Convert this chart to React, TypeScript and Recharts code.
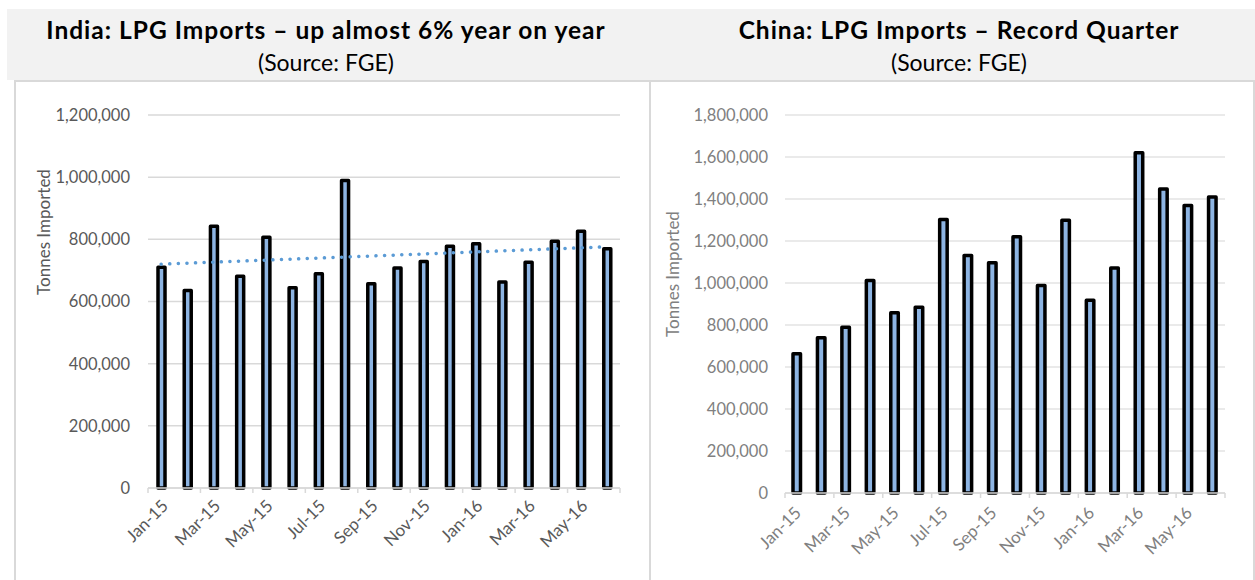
import React from 'react';
import { BarChart, Bar, XAxis, YAxis, CartesianGrid, ReferenceLine, Label } from 'recharts';

const months = ['Jan-15','Feb-15','Mar-15','Apr-15','May-15','Jun-15','Jul-15','Aug-15','Sep-15','Oct-15','Nov-15','Dec-15','Jan-16','Feb-16','Mar-16','Apr-16','May-16','Jun-16'];
const indiaImports = [710000,635000,842000,681000,807000,644000,689000,989000,657000,708000,729000,778000,786000,663000,726000,794000,826000,770000];
const chinaImports = [663000,739000,789000,1012000,858000,884000,1302000,1131000,1096000,1220000,988000,1299000,918000,1072000,1620000,1448000,1369000,1410000];
const indiaTicks = [0,200000,400000,600000,800000,1000000,1200000];
const chinaTicks = [0,200000,400000,600000,800000,1000000,1200000,1400000,1600000,1800000];
const indiaTrend = [720000, 776000];

const indiaData = months.map((m, i) => ({ month: m, value: indiaImports[i] }));
const chinaData = months.map((m, i) => ({ month: m, value: chinaImports[i] }));

const FONT = 'Lato, "Noto Sans", sans-serif';
const fmt = (v: number) => v.toLocaleString('en-US');

function makeTick(color: string, dxLabel: number, dyLabel: number, fallbackHalf: number, last: number) {
  return (props: any) => {
    const { x, y, payload, index } = props;
    const half = payload && typeof payload.offset === 'number' && payload.offset > 0 ? payload.offset : fallbackHalf;
    const even = index % 2 === 0;
    return (
      <g>
        {even && <line x1={x - half} x2={x - half} y1={y} y2={y + 5} stroke="#d9d9d9" strokeWidth={1.5} />}
        {index === last && <line x1={x + half} x2={x + half} y1={y} y2={y + 5} stroke="#d9d9d9" strokeWidth={1.5} />}
        {even && (
          <text
            x={x + dxLabel}
            y={y + dyLabel}
            transform={`rotate(-45, ${x + dxLabel}, ${y + dyLabel})`}
            textAnchor="end"
            fill={color}
            fontFamily={FONT}
            fontSize={17}
          >
            {payload.value}
          </text>
        )}
      </g>
    );
  };
}

function yLabel(text: string, dx: number, shift: number, color: string) {
  return (props: any) => {
    const vb = props.viewBox || { x: 0, y: 0, width: 0, height: 0 };
    const cx = vb.x + dx;
    const cy = vb.y + vb.height / 2 + shift;
    return (
      <text
        x={cx}
        y={cy}
        transform={`rotate(-90, ${cx}, ${cy})`}
        textAnchor="middle"
        dominantBaseline="central"
        fill={color}
        fontFamily={FONT}
        fontSize={17}
      >
        {text}
      </text>
    );
  };
}

const titleStyle: React.CSSProperties = { fontWeight: 700, fontSize: 24.5, letterSpacing: 1.0 };

export default function App() {
  return (
    <div style={{ position: 'absolute', left: 0, top: 0, width: 1255, height: 580, background: '#ffffff', overflow: 'hidden', fontFamily: FONT }}>
      <div style={{ position: 'absolute', left: 7, top: 9, width: 1248, height: 71, background: '#f2f2f2' }} />
      <div style={{ position: 'absolute', left: 15, top: 14, width: 622, textAlign: 'center', color: '#000', lineHeight: '32px' }}>
        <div style={titleStyle}>India: LPG Imports – up almost 6% year on year</div>
        <div style={{ fontSize: 23 }}>(Source: FGE)</div>
      </div>
      <div style={{ position: 'absolute', left: 655, top: 14, width: 608, textAlign: 'center', color: '#000', lineHeight: '32px' }}>
        <div style={titleStyle}>China: LPG Imports – Record Quarter</div>
        <div style={{ fontSize: 23 }}>(Source: FGE)</div>
      </div>
      <div style={{ position: 'absolute', left: 14, top: 80, width: 637, height: 520, border: '2px solid #d9d9d9', boxSizing: 'border-box', background: '#fff' }} />
      <div style={{ position: 'absolute', left: 649, top: 80, width: 606, height: 520, border: '2px solid #d9d9d9', boxSizing: 'border-box', background: '#fff' }} />

      <div style={{ position: 'absolute', left: 15, top: 80 }}>
        <BarChart width={634} height={500} data={indiaData} margin={{ top: 35, right: 29, bottom: 12, left: 0 }}>
          <CartesianGrid vertical={false} stroke="#d9d9d9" strokeWidth={1.5} />
          <XAxis
            dataKey="month"
            interval={0}
            height={80}
            tickLine={false}
            tickSize={0}
            tickMargin={0}
            axisLine={{ stroke: '#d9d9d9', strokeWidth: 1.5 }}
            tick={makeTick('#595959', 8, 19, 13.1, months.length - 1)}
          />
          <YAxis
            width={133}
            domain={[0, 1200000]}
            ticks={indiaTicks}
            tickFormatter={fmt}
            axisLine={false}
            tickLine={false}
            tickSize={0}
            tickMargin={18}
            tick={{ fill: '#595959', fontFamily: FONT, fontSize: 16.5 }}
          >
            <Label content={yLabel('Tonnes Imported', 28, -69.5, '#595959')} />
          </YAxis>
          <Bar dataKey="value" fill="#8db4e2" stroke="#000" strokeWidth={3.5} barSize={7} strokeLinejoin="round" isAnimationActive={false} />
          <ReferenceLine
            segment={[{ x: months[0], y: indiaTrend[0] }, { x: months[months.length - 1], y: indiaTrend[1] }]}
            stroke="#5b9bd5"
            strokeWidth={3.5}
            strokeDasharray="0.1 8.5"
            strokeLinecap="round"
          />
        </BarChart>
      </div>

      <div style={{ position: 'absolute', left: 650, top: 80 }}>
        <BarChart width={603} height={500} data={chinaData} margin={{ top: 35, right: 28, bottom: 12, left: 0 }}>
          <CartesianGrid vertical={false} stroke="#e3e3e3" strokeWidth={1.5} />
          <XAxis
            dataKey="month"
            interval={0}
            height={75}
            tickLine={false}
            tickSize={0}
            tickMargin={0}
            axisLine={{ stroke: '#d9d9d9', strokeWidth: 1.5 }}
            tick={makeTick('#808080', 5, 21, 12.2, months.length - 1)}
          />
          <YAxis
            width={135}
            domain={[0, 1800000]}
            ticks={chinaTicks}
            tickFormatter={fmt}
            axisLine={false}
            tickLine={false}
            tickSize={0}
            tickMargin={17}
            tick={{ fill: '#808080', fontFamily: FONT, fontSize: 16.5 }}
          >
            <Label content={yLabel('Tonnes Imported', 22, -30, '#808080')} />
          </YAxis>
          <Bar dataKey="value" fill="#8db4e2" stroke="#000" strokeWidth={3.5} barSize={7.5} strokeLinejoin="round" isAnimationActive={false} />
        </BarChart>
      </div>
    </div>
  );
}
